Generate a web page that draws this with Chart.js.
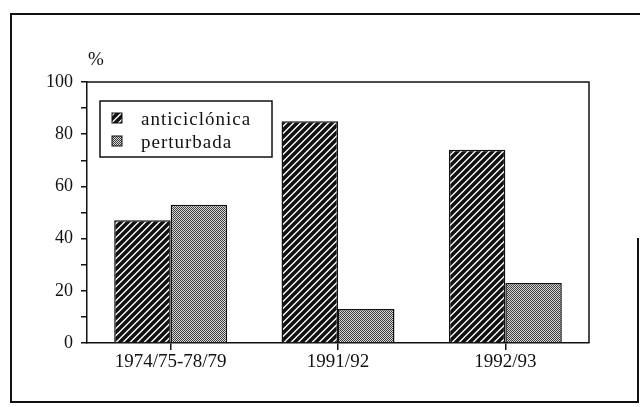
<!DOCTYPE html>
<html>
<head>
<meta charset="utf-8">
<script src="https://cdn.jsdelivr.net/npm/chart.js@4.4.1/dist/chart.umd.min.js"></script>
<style>
  body { margin: 0; background: #fff; }
  #zone { width: 640px; height: 407px; }
</style>
</head>
<body>
<div id="zone"><canvas id="graphique" width="640" height="407"></canvas></div>
<script>
// Données
const categories = ["1974/75-78/79", "1991/92", "1992/93"];
const anticiclonica = [47, 85, 74];
const perturbada = [53, 13, 23];
const nomsSeries = ["anticiclónica", "perturbada"];
const ticksY = [0, 20, 40, 60, 80, 100];

const police = '"Liberation Serif", "DejaVu Serif", serif';
const encre = "#111";

// Motif hachuré (////)
function motifHachures() {
  const c = document.createElement("canvas");
  c.width = 7;
  c.height = 7;
  const ctx = c.getContext("2d");
  ctx.fillStyle = "#fff";
  ctx.fillRect(0, 0, 7, 7);
  ctx.strokeStyle = encre;
  ctx.lineWidth = 3.6;
  ctx.beginPath();
  for (let k = -7; k <= 14; k += 7) {
    ctx.moveTo(k - 7, 7 + 7);
    ctx.lineTo(k + 7 + 7, -7);
  }
  ctx.stroke();
  return ctx.createPattern(c, "repeat");
}

// Motif pointillé gris
function motifGris() {
  const c = document.createElement("canvas");
  c.width = 4;
  c.height = 4;
  const ctx = c.getContext("2d");
  ctx.fillStyle = "#d8d8d8";
  ctx.fillRect(0, 0, 4, 4);
  ctx.fillStyle = "#3c3c3c";
  const points = [[0, 0], [2, 0], [1, 1], [3, 1], [0, 2], [2, 2], [3, 3], [1, 3]];
  for (const p of points) ctx.fillRect(p[0], p[1], 1, 1);
  return ctx.createPattern(c, "repeat");
}

const hachures = motifHachures();
const gris = motifGris();

const cadre = {
  id: "cadre",
  afterDraw(chart) {
    const ctx = chart.ctx;
    const a = chart.chartArea;
    ctx.save();
    ctx.strokeStyle = encre;
    // cadre extérieur
    ctx.lineWidth = 2;
    ctx.beginPath();
    ctx.moveTo(640, 14);
    ctx.lineTo(11, 14);
    ctx.lineTo(11, 402);
    ctx.lineTo(638, 402);
    ctx.lineTo(638, 238);
    ctx.stroke();
    // bords haut et droit de la zone du graphique
    ctx.lineWidth = 1.5;
    ctx.beginPath();
    ctx.moveTo(a.left, a.top);
    ctx.lineTo(a.right, a.top);
    ctx.lineTo(a.right, a.bottom);
    ctx.stroke();
    // unité
    ctx.fillStyle = encre;
    ctx.font = "19px " + police;
    ctx.textBaseline = "alphabetic";
    ctx.fillText("%", 88, 65);
    // légende
    ctx.lineWidth = 1.5;
    ctx.strokeRect(100, 101, 172, 56);
    const remplissages = [hachures, gris];
    const lignes = [125, 148];
    ctx.font = "19px " + police;
    ctx.letterSpacing = "1px";
    for (let i = 0; i < nomsSeries.length; i++) {
      ctx.fillStyle = remplissages[i];
      ctx.fillRect(112, lignes[i] - 12, 10, 10);
      ctx.lineWidth = 1;
      ctx.strokeRect(112, lignes[i] - 12, 10, 10);
      ctx.fillStyle = encre;
      ctx.fillText(nomsSeries[i], 141, lignes[i]);
    }
    ctx.restore();
  }
};

const data = {
  labels: categories,
  datasets: [
    {
      label: nomsSeries[0],
      data: anticiclonica,
      backgroundColor: hachures,
      borderColor: encre,
      borderWidth: 1.5,
    },
    {
      label: nomsSeries[1],
      data: perturbada,
      backgroundColor: gris,
      borderColor: encre,
      borderWidth: 1.5,
    },
  ],
};

const config = {
  type: "bar",
  data: data,
  options: {
    responsive: false,
    animation: false,
    events: [],
    layout: { padding: { left: 0, top: 82, right: 51, bottom: 0 } },
    datasets: { bar: { categoryPercentage: 0.675, barPercentage: 1 } },
    plugins: { legend: { display: false }, tooltip: { enabled: false } },
    scales: {
      x: {
        afterFit(scale) { scale.height = 64; },
        grid: {
          display: true,
          drawOnChartArea: false,
          offset: false,
          tickLength: 7,
          color: encre,
          lineWidth: 1.5,
        },
        border: { display: true, color: encre, width: 1.5 },
        ticks: { color: encre, padding: 1, font: { family: police, size: 19 } },
      },
      y: {
        min: 0,
        max: 100,
        afterFit(scale) { scale.width = 87; },
        grid: {
          display: true,
          drawOnChartArea: false,
          tickLength: 6,
          color: encre,
          lineWidth: 1.5,
        },
        border: { display: true, color: encre, width: 1.5 },
        ticks: {
          stepSize: 10,
          color: encre,
          padding: 8,
          font: { family: police, size: 18 },
          callback: (v) => (ticksY.includes(v) ? v : ""),
        },
      },
    },
  },
  plugins: [cadre],
};

new Chart(document.querySelector("#graphique"), config);
</script>
</body>
</html>
